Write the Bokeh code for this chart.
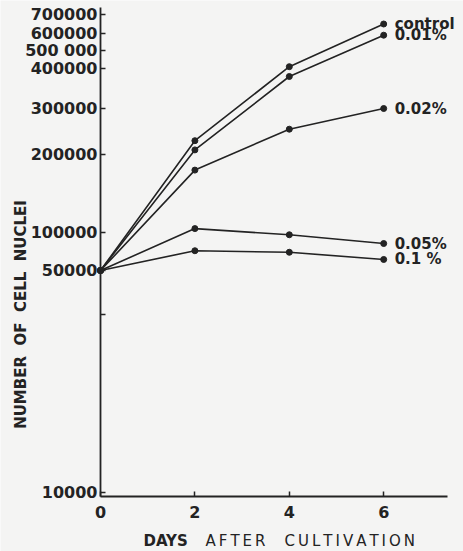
import numpy as np
from bokeh.plotting import figure
from bokeh.models import (FixedTicker, Label, LabelSet, ColumnDataSource, Range1d,
                          LinearAxis)
from bokeh.core.properties import value
from bokeh.embed import file_html
from bokeh.resources import INLINE

# ---- data ----
days = [0, 2, 4, 6]
control = [50000, 230000, 410000, 650000]
pct_001 = [50000, 210000, 380000, 590000]
pct_002 = [50000, 180000, 255000, 300000]
pct_005 = [50000, 105000, 97000, 85500]
pct_01 = [50000, 76000, 74000, 64500]
series = [control, pct_001, pct_002, pct_005, pct_01]
series_names = ["control", "0.01%", "0.02%", "0.05%", "0.1 %"]

x_tick_values = [0, 2, 4, 6]
y_tick_values = [10000, 50000, 100000, 200000, 300000, 400000, 500000, 600000, 700000]
y_tick_labels = ["10000", "50000", "100000", "200000", "300000", "400000",
                 "500 000", "600000", "700000"]
y_minor_values = [42000]

# the original's hand-drawn, irregular value axis: height of each labelled tick
y_axis_heights = [4, 226, 264, 342, 388, 428, 446, 463, 482]


def yscale(v):
    return np.interp(np.asarray(v, dtype=float), y_tick_values, y_axis_heights)


bg = "#f4f4f3"
ink = "#232323"
font = "DejaVu Sans"
nb = "\u00a0"
th = "\u2009"

W, H = 463, 551
left_px, bottom_px = 100, 55          # where the axes cross, from the canvas edges
px_per_day = 47.2
x_end, y_top = 7.35, 489              # axis extents

p = figure(width=W, height=H,
           x_range=Range1d(-left_px / px_per_day, (W - left_px) / px_per_day),
           y_range=Range1d(-bottom_px, H - bottom_px),
           x_axis_location=None, y_axis_location=None,
           output_backend="svg", toolbar_location=None,
           min_border=0, min_border_left=0, min_border_right=0,
           min_border_top=0, min_border_bottom=0,
           background_fill_color=bg, border_fill_color=bg,
           outline_line_color=None)
p.grid.visible = False

ytick_pos = [float(t) for t in yscale(y_tick_values)]
yaxis = LinearAxis(fixed_location=0, bounds=(0, y_top),
                   ticker=FixedTicker(ticks=ytick_pos,
                                      minor_ticks=[float(t) for t in yscale(y_minor_values)]),
                   major_label_overrides={pos: lab for pos, lab in zip(ytick_pos, y_tick_labels)},
                   major_label_standoff=3)
xaxis = LinearAxis(fixed_location=0, bounds=(0, x_end),
                   ticker=FixedTicker(ticks=x_tick_values),
                   major_label_standoff=9)

for ax in (xaxis, yaxis):
    ax.axis_line_color = ink
    ax.axis_line_width = 1.8
    ax.major_tick_line_color = ink
    ax.minor_tick_line_color = ink
    ax.major_tick_line_width = 1.5
    ax.minor_tick_line_width = 1.5
    ax.major_tick_in = 5
    ax.major_tick_out = 0
    ax.minor_tick_in = 5
    ax.minor_tick_out = 0
    ax.major_label_text_font = font
    ax.major_label_text_font_style = "bold"
    ax.major_label_text_font_size = "16px"
    ax.major_label_text_color = ink
xaxis.minor_tick_line_color = None
p.add_layout(yaxis, "left")
p.add_layout(xaxis, "below")

for vals in series:
    p.line(days, yscale(vals), line_color=ink, line_width=1.6)
    p.scatter(days, yscale(vals), size=6, color=ink)

src = ColumnDataSource(dict(x=[days[-1]] * len(series),
                            y=[float(yscale(s[-1])) for s in series],
                            text=series_names))
p.add_layout(LabelSet(x="x", y="y", text="text", source=src, x_offset=11,
                      text_baseline="middle", text_font=value(font),
                      text_font_style="bold", text_font_size="15px",
                      text_color=ink))

# axis titles
p.add_layout(Label(x=(20 - left_px) / px_per_day, y=182, angle=np.pi / 2,
                   text="NUMBER" + nb * 2 + "OF" + nb * 2 + "CELL" + nb * 2 + "NUCLEI",
                   text_align="center", text_baseline="middle",
                   text_font=font, text_font_style="bold",
                   text_font_size="15px", text_color=ink))
p.add_layout(Label(x=(143 - left_px) / px_per_day, y=-44, text="DAYS",
                   text_baseline="middle", text_font=font, text_font_style="bold",
                   text_font_size="15px", text_color=ink))
p.add_layout(Label(x=(205 - left_px) / px_per_day, y=-44,
                   text=th.join("AFTER") + nb * 4 + th.join("CULTIVATION"),
                   text_baseline="middle", text_font=font,
                   text_font_size="15px", text_color=ink))

open("out.html", "w").write(file_html(p, INLINE))
